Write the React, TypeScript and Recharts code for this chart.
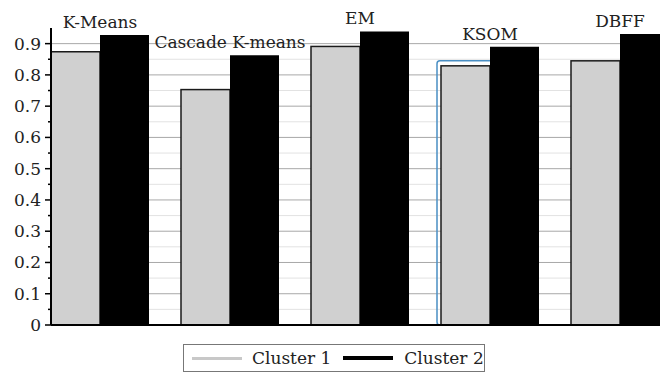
import React from "react";
import { BarChart, Bar, XAxis, YAxis, CartesianGrid, Legend, LabelList } from "recharts";

const categories = ["K-Means", "Cascade K-means", "EM", "KSOM", "DBFF"];
const cluster1 = [0.874, 0.753, 0.891, 0.829, 0.845];
const cluster2 = [0.928, 0.863, 0.939, 0.89, 0.931];
const yTicks = [0, 0.05, 0.1, 0.15, 0.2, 0.25, 0.3, 0.35, 0.4, 0.45, 0.5, 0.55, 0.6, 0.65, 0.7, 0.75, 0.8, 0.85, 0.9];
const yLabels = ["0", "", "0.1", "", "0.2", "", "0.3", "", "0.4", "", "0.5", "", "0.6", "", "0.7", "", "0.8", "", "0.9"];
const majorLines = [0.1, 0.2, 0.3, 0.4, 0.5, 0.6, 0.7, 0.8, 0.9];
const minorLines = [0.05, 0.15, 0.25, 0.35, 0.45, 0.55, 0.65, 0.75, 0.85];

const data = categories.map((name, i) => ({ name, c1: cluster1[i], c2: cluster2[i] }));

const FONT_STYLE = { fontFamily: "'DejaVu Serif', 'Liberation Serif', serif" };

const YTick = (props: any) => {
  const { x, y, index } = props;
  const label = yLabels[index];
  const axisX = x + 10;
  const major = label !== "";
  return (
    <g>
      <line x1={major ? axisX - 6 : axisX - 3} x2={axisX} y1={y} y2={y} stroke="#000" strokeWidth={1.5} />
      {major && (
        <text x={x} y={y} dy={6} textAnchor="end" style={FONT_STYLE} fontSize={17} fill="#222">
          {label}
        </text>
      )}
    </g>
  );
};

const Cluster1Shape = (props: any) => {
  const { x, y, width, height, index } = props;
  return (
    <g>
      <rect x={x} y={y} width={width} height={height} fill="#d0d0d0" stroke="#1a1a1a" strokeWidth={1.5} />
      {index === 3 && (
        <rect x={x - 4} y={y - 5} width={width + 9} height={height + 5} rx={3} fill="none" stroke="#4a8fc4" strokeWidth={1.5} />
      )}
    </g>
  );
};

const GroupLabel = (props: any) => {
  const { x, y, value } = props;
  return (
    <text x={x} y={y - 7} textAnchor="middle" style={FONT_STYLE} fontSize={17} fill="#222">
      {value}
    </text>
  );
};

const LegendBox = () => (
  <div
    style={{
      boxSizing: "border-box",
      height: 28,
      width: 302,
      border: "1.5px solid #777",
      display: "flex",
      alignItems: "center",
      ...FONT_STYLE,
      fontSize: 17,
      color: "#222",
      background: "#fff",
      whiteSpace: "nowrap",
    }}
  >
    <span style={{ display: "inline-block", width: 50, height: 3, background: "#c8c8c8", marginLeft: 8 }} />
    <span style={{ marginLeft: 10 }}>Cluster 1</span>
    <span style={{ display: "inline-block", width: 50, height: 4, background: "#000", marginLeft: 12 }} />
    <span style={{ marginLeft: 11 }}>Cluster 2</span>
  </div>
);

export default function App() {
  return (
    <div style={{ position: "absolute", left: 0, top: 0, width: 660, height: 374, overflow: "hidden", background: "#fff", ...FONT_STYLE }}>
      <BarChart
        width={700}
        height={374}
        data={data}
        margin={{ top: 28, right: 15, left: 0, bottom: 2 }}
        barCategoryGap={16}
        barGap={0}
      >
        <CartesianGrid vertical={false} horizontalValues={minorLines} stroke="#e2e2e2" strokeWidth={1} />
        <CartesianGrid vertical={false} horizontalValues={majorLines} stroke="#a8a8a8" strokeWidth={1} />
        <XAxis
          dataKey="name"
          height={19}
          padding={{ left: -16, right: 0 }}
          tick={false}
          tickLine={false}
          axisLine={{ stroke: "#000", strokeWidth: 2 }}
        />
        <YAxis
          width={51}
          domain={[0, 0.95]}
          ticks={yTicks}
          interval={0}
          tickSize={6}
          tickMargin={4}
          tickLine={false}
          tick={<YTick />}
          axisLine={{ stroke: "#000", strokeWidth: 2 }}
          allowDataOverflow
        />
        <Legend
          verticalAlign="bottom"
          content={<LegendBox />}
          wrapperStyle={{ left: 183, top: 344, width: 302 }}
        />
        <Bar dataKey="c1" name="Cluster 1" fill="#d0d0d0" shape={<Cluster1Shape />} isAnimationActive={false} />
        <Bar dataKey="c2" name="Cluster 2" fill="#000" isAnimationActive={false}>
          <LabelList dataKey="name" content={<GroupLabel />} />
        </Bar>
      </BarChart>
    </div>
  );
}
